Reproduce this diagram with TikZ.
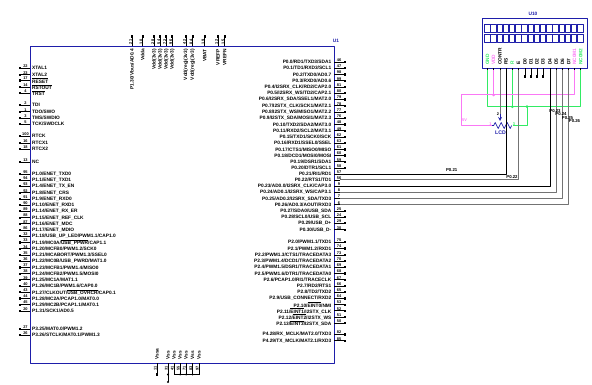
\documentclass[tikz,border=0pt]{standalone}
\usepackage{fontspec}
\setmainfont{Liberation Sans}
\newcommand{\ovl}[1]{\ensuremath{\overline{\hbox{#1}}}}
\definecolor{chipblue}{RGB}{30,30,170}
\definecolor{netgreen}{RGB}{50,235,100}
\definecolor{netpink}{RGB}{250,120,245}
\tikzset{
	pinline/.style={line width=.7pt},
	pintip/.style={fill,inner sep=0pt,minimum size=2.2pt},
	pinnum/.style={font=\fontsize{3.9}{4}\selectfont\bfseries,inner sep=0pt},
	pintext/.style={font=\fontsize{4.8}{5}\selectfont\bfseries,inner sep=0pt},
	netname/.style={font=\fontsize{4.3}{5}\selectfont\bfseries,inner sep=0pt},
	netblack/.style={line width=.7pt},
	netgray/.style={line width=1pt,black!55},
	netg/.style={line width=1pt,netgreen},
	netp/.style={line width=1pt,netpink},
	chip/.style={draw=chipblue,line width=.9pt,inner sep=0pt}
}
\begin{document}
\begin{tikzpicture}[x=1pt,y=-1pt,line join=round]
	\useasboundingbox (0,0) rectangle (592,385);
	\node[chip,anchor=north west,minimum width=304.5pt,minimum height=317pt] (U1) at (29.5,46) {};
	\node[pintext,text=chipblue] (U1name) at (336,41) {U1};
	% left side of U1
	\foreach \y/\n/\t in {68.3/22/XTAL1,74.7/23/XTAL2,80.5/17/\ovl{RESET},87/14/\ovl{RSTOUT},93/4/\ovl{TRST},
		105/2/TDI,111.7/1/{TDO/SWO},118/3/{TMS/SWDIO},124/5/{TCK/SWDCLK},
		136.3/100/RTCK,143/16/RTCX1,149/18/RTCX2,162/13/NC,
		174/95/{P1.0/ENET\_TXD0},180.2/94/{P1.1/ENET\_TXD1},186.4/93/{P1.4/ENET\_TX\_EN},192.7/92/{P1.8/ENET\_CRS},
		198.9/91/{P1.9/ENET\_RXD0},205.1/90/{P1.10/ENET\_RXD1},211.3/89/{P1.14/ENET\_RX\_ER},217.6/88/{P1.15/ENET\_REF\_CLK},
		223.8/87/{P1.16/ENET\_MDC},230/86/{P1.17/ENET\_MDIO},236.2/32/{P1.18/USB\_UP\_LED/PWM1.1/CAP1.0},
		242.5/33/{P1.19/MC0A/\ovl{USB\_PPWR}/CAP1.1},248.7/34/{P1.20/MCFB0/PWM1.2/SCK0},254.9/35/{P1.21/MCABORT/PWM1.3/SSEL0},
		261.1/36/{P1.22/MC0B/USB\_PWRD/MAT1.0},267.4/37/{P1.23/MCFB1/PWM1.4/MISO0},273.6/38/{P1.24/MCFB2/PWM1.5/MOSI0},
		279.8/39/{P1.25/MC1A/MAT1.1},286/40/{P1.26/MC1B/PWM1.6/CAP0.0},292.2/43/{P1.27/CLKOUT/\ovl{USB\_OVRCR}/CAP0.1},
		298.4/44/{P1.28/MC2A/PCAP1.0/MAT0.0},304.6/45/{P1.29/MC2B/PCAP1.1/MAT0.1},311/20/{P1.31/SCK1/AD0.5},
		329/27/{P3.25/MAT0.0/PWM1.2},335.2/26/{P3.26/STCLK/MAT0.1/PWM1.3}}{
		\coordinate (L\n) at (20,\y);
		\node[pintip] (Ltip\n) at (L\n) {};
		\draw[pinline] (L\n) -- ++(9.5,0);
		\node[pinnum] (Lnum\n) at (25.5,\y-2) {\n};
		\node[pintext,anchor=west] (Ltext\n) at (32,\y) {\t};
	}
	% right side of U1, the first list has no wires
	\foreach \y/\n/\t in {62/46/{P0.0/RD1/TXD3/SDA1},68.3/47/{P0.1/TD1/RXD3/SCL1},74.5/98/{P0.2/TXD0/AD0.7},80.8/99/{P0.3/RXD0/AD0.6},
		87/81/{P0.4/I2SRX\_CLK/RD2/CAP2.0},93.3/80/{P0.5/I2SRX\_WS/TD2/CAP2.1},99.5/79/{P0.6/I2SRX\_SDA/SSEL1/MAT2.0},
		105.8/78/{P0.7/I2STX\_CLK/SCK1/MAT2.1},112/77/{P0.8/I2STX\_WS/MISO1/MAT2.2},118.3/76/{P0.9/I2STX\_SDA/MOSI1/MAT2.3},
		124.5/48/{P0.10/TXD2/SDA2/MAT3.0},130.8/49/{P0.11/RXD2/SCL2/MAT3.1},137/62/{P0.15/TXD1/SCK0/SCK},
		143.3/63/{P0.16/RXD1/SSEL0/SSEL},149.5/61/{P0.17/CTS1/MISO0/MISO},155.5/60/{P0.18/DCD1/MOSI0/MOSI},
		161.7/59/{P0.19/DSR1/SDA1},168/58/{P0.20/DTR1/SCL1},
		211/25/{P0.27/SDA0/USB\_SDA},217/24/{P0.28/SCL0/USB\_SCL},223.3/29/{P0.29/USB\_D+},229.7/30/{P0.30/USB\_D-},
		242/75/{P2.0/PWM1.1/TXD1},248.5/74/{P2.1/PWM1.2/RXD1},255/73/{P2.2/PWM1.3/CTS1/TRACEDATA3},
		261/70/{P2.3/PWM1.4/DCD1/TRACEDATA2},267.3/69/{P2.4/PWM1.5/DSR1/TRACEDATA1},273.5/68/{P2.5/PWM1.6/DTR1/TRACEDATA0},
		279.8/67/{P2.6/PCAP1.0/RI1/TRACECLK},286/66/{P2.7/RD2/RTS1},292.2/65/{P2.8/TD2/TXD2},298.4/64/{P2.9/USB\_CONNECT/RXD2},
		304.6/53/{P2.10/\ovl{EINT0}/NMI},310.8/52/{P2.11/\ovl{EINT1}/I2STX\_CLK},317/51/{P2.12/\ovl{EINT2}/I2STX\_WS},323.2/50/{P2.13/\ovl{EINT3}/I2STX\_SDA},
		334.5/82/{P4.28/RX\_MCLK/MAT2.0/TXD3},340.8/85/{P4.29/TX\_MCLK/MAT2.1/RXD3}}{
		\coordinate (R\n) at (345,\y);
		\node[pintip] (Rtip\n) at (R\n) {};
		\draw[pinline] (R\n) -- ++(-11,0);
		\node[pinnum] (Rnum\n) at (339,\y-2) {\n};
		\node[pintext,anchor=east] (Rtext\n) at (331.5,\y) {\t};
	}
	\foreach \y/\n/\t in {174/57/{P0.21/RI1/RD1},180/56/{P0.22/RTS1/TD1},186.4/9/{P0.23/AD0.0/I2SRX\_CLK/CAP3.0},
		192.5/8/{P0.24/AD0.1/I2SRX\_WS/CAP3.1},198.6/7/{P0.25/AD0.2/I2SRX\_SDA/TXD3},204.8/6/{P0.26/AD0.3/AOUT/RXD3}}{
		\coordinate (R\n) at (340,\y);
		\draw[pinline] (R\n) -- ++(-6,0);
		\node[pinnum] (Rnum\n) at (339,\y-2) {\n};
		\node[pintext,anchor=east] (Rtext\n) at (331.5,\y) {\t};
	}
	% top and bottom of U1
	\foreach \x/\n/\t in {132/21/{P1.30/Vbus/AD0.4},142.7/10/Vdda,154.3/28/Vdd(3v3),160.3/54/Vdd(3v3),166.3/72/Vdd(3v3),172.3/96/Vdd(3v3),
		186/42/Vdd(reg)(3v3),192.7/84/Vdd(reg)(3v3),204.7/19/VBAT,218/12/VREFP,224.7/15/VREFN}{
		\coordinate (T\n) at (\x,36.5);
		\node[pintip] (Ttip\n) at (T\n) {};
		\draw[pinline] (T\n) -- ++(0,9.5);
		\node[pinnum,rotate=90] (Tnum\n) at (\x-1.6,42) {\n};
		\node[pintext,rotate=90,anchor=east] (Ttext\n) at (\x,49) {\t};
	}
	\foreach \x/\n/\t in {157/11/Vssa,168/31/Vss,174/41/Vss,180/55/Vss,186/71/Vss,192.5/83/Vss,199/97/Vss}{
		\coordinate (B\n) at (\x,374.5);
		\draw[pinline] (B\n) -- ++(0,-11.5);
		\node[pinnum,rotate=90] (Bnum\n) at (\x-1.8,368) {\n};
		\node[pintext,rotate=90,anchor=west] (Btext\n) at (\x,360) {\t};
	}
	\node[pintip] (Btip11) at (B11) {};
	\coordinate (Bgnd) at (168,382);
	\draw[pinline] (B31) -- (Bgnd);
	\fill (B31) circle (1.2pt) (Bgnd) circle (1.2pt);
	\draw[pinline] (B41) -- (B97);
	\fill (B55) circle (1pt) (B71) circle (1pt) (B83) circle (1pt);
	% the display
	\node[chip,line width=1pt,anchor=north west,minimum width=105.3pt,minimum height=50pt] (U10) at (481.7,18.3) {};
	\node[pintext,text=chipblue] (U10name) at (533,14.3) {U10};
	\foreach \i in {0,...,15}{
		\draw[chipblue,line width=1pt] (484.6+6.2*\i,24.3) rectangle ++(5.5,8.4);
		\draw[chipblue,line width=1pt] (484.6+6.2*\i,34.6) rectangle ++(5.5,8.4);
	}
	\foreach \x/\n/\c/\t in {487.5/gnd/netgreen/GND,493.5/vdd/netpink/VDD,500/contr/black/CONTR,506/rs/black/RS,512.3/rw/netgreen/R/W,518.5/en/black/E,
		525/dz/black/D0,531/da/black/D1,537/db/black/D2,543/dc/black/D3,550/dd/black/D4,556.3/de/black/D5,562.5/df/black/D6,568.7/dg/black/D7,
		574.5/ka/netpink/NC0M1,580.8/kb/netgreen/NC0M2}{
		\coordinate (P\n) at (\x,70.5);
		\draw[pinline] (P\n) -- ++(0,-2);
		\node[pintext,rotate=90,anchor=west,text=\c] (Ptext\n) at (\x,65) {\t};
	}
	\foreach \n in {dz,da,db,dc}{
		\node[pintip] (Pend\n) at ([yshift=-6pt]P\n) {};
		\draw[pinline] (P\n) -- (Pend\n);
	}
	% contrast trimmer
	\coordinate (potL) at (491.7,125.5);
	\coordinate (potR) at (513,125.5);
	\coordinate (potW) at (500,114);
	\draw[chipblue,line width=.7pt] (potL) -- ++(2,0) -- ++(1.5,-3) -- ++(3,6) -- ++(3,-6) -- ++(3,6) -- ++(3,-6) -- ++(3,6) -- ++(1.5,-3);
	\draw[chipblue,line width=.8pt,-stealth] (potW) -- ++(0,7);
	\node[pintext,text=chipblue,font=\fontsize{5.2}{6}\selectfont\bfseries] (potname) at (500.5,133) {LCD};
	\node[pinnum] (pot2) at (498,114) {2};
	\node[pinnum,text=netpink] (pot1) at (490.5,124) {1};
	\node[pinnum,text=netgreen] (pot3) at (514,124) {3};
	% nets
	\coordinate (gndbus) at (527,106.7);
	\coordinate (vddbus) at (461.7,95);
	\coordinate (rwbus) at (512.3,106.7);
	\draw[netg] (Pgnd) -- (Pgnd |- gndbus) -- (Pkb |- gndbus) -- (Pkb);
	\draw[netg] (Prw) -- (rwbus);
	\draw[netg] (potR) -| (gndbus);
	\fill[netgreen] (rwbus) circle (1.5pt) (gndbus) circle (1.5pt);
	\draw[netp] (Pka) -- (Pka |- vddbus) -- (vddbus) |- (potL);
	\draw[netp] (Pvdd) -- (Pvdd |- vddbus);
	\fill[netpink] (Pvdd |- vddbus) circle (1.5pt);
	\node[pinnum,text=netpink] (vddname) at (464.5,120) {5V};
	\draw[netgray] (Pcontr) -- (potW);
	\draw[netblack] (Prs) |- (R57);
	\draw[netgray] (Pen) |- (R56);
	\draw[netblack] (Pdd) |- (R9);
	\draw[netgray] (Pde) |- (R8);
	\draw[netgray] (Pdf) |- (R7);
	\draw[netgray] (Pdg) |- (R6);
	\foreach \x/\y/\t in {451.7/170/P0.21,512/177.3/P0.22,555/111/P0.23,561/114.5/P0.24,567.5/118/P0.25,574.5/121.5/P0.26}{
		\node[netname] (net\t) at (\x,\y) {\t};
	}
\end{tikzpicture}
\end{document}
